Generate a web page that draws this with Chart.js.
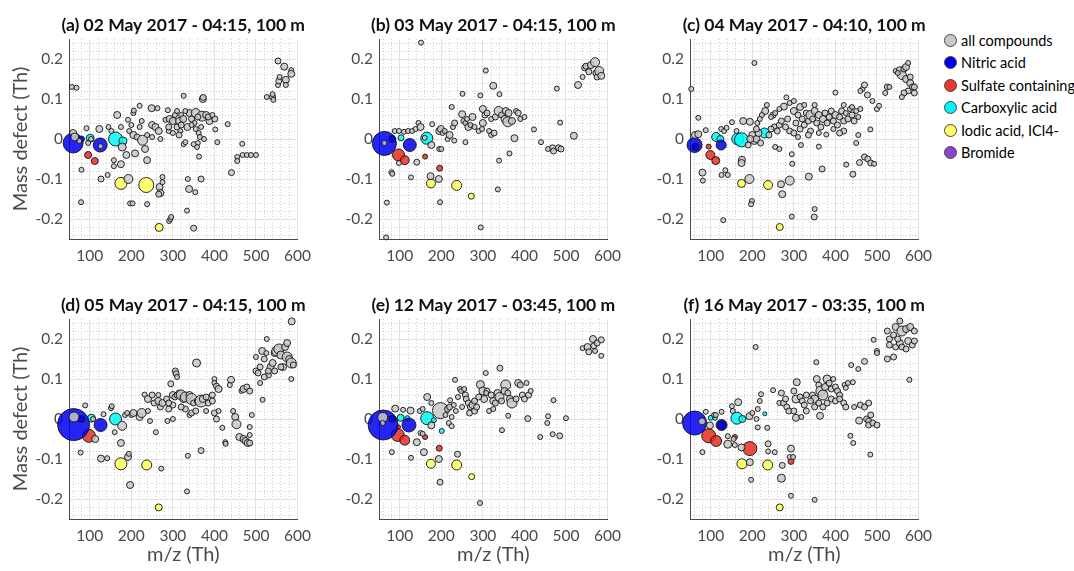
<!DOCTYPE html>
<html>
<head>
<meta charset="utf-8">
<script src="https://cdn.jsdelivr.net/npm/chart.js@4.4.0/dist/chart.umd.min.js"></script>
<style>
  body { margin: 0; width: 1074px; height: 571px; overflow: hidden; background: #fff; position: relative; font-family: Lato, sans-serif; }
  canvas { position: absolute; }
  #legend { position: absolute; left: 944px; top: 29px; }
  .item { display: flex; align-items: center; height: 22.5px; font-size: 14.5px; color: #000; white-space: nowrap; }
  .dot { width: 13px; height: 13px; border-radius: 50%; border: 1px solid #444; box-sizing: border-box; margin-right: 4px; }
</style>
</head>
<body>
<canvas id="pa" width="320" height="290" style="left:-1px;top:4px"></canvas>
<canvas id="pb" width="320" height="290" style="left:309px;top:4px"></canvas>
<canvas id="pc" width="320" height="290" style="left:620px;top:4px"></canvas>
<canvas id="pd" width="320" height="290" style="left:-1px;top:284px"></canvas>
<canvas id="pe" width="320" height="290" style="left:309px;top:284px"></canvas>
<canvas id="pf" width="320" height="290" style="left:620px;top:284px"></canvas>
<div id="legend"></div>
<script>
// tick labels
const xTicks = [100, 200, 300, 400, 500, 600];
const yTicks = [-0.2, -0.1, 0, 0.1, 0.2];

const titles = [
    '(a) 02 May 2017 - 04:15, 100 m',
    '(b) 03 May 2017 - 04:15, 100 m',
    '(c) 04 May 2017 - 04:10, 100 m',
    '(d) 05 May 2017 - 04:15, 100 m',
    '(e) 12 May 2017 - 03:45, 100 m',
    '(f) 16 May 2017 - 03:35, 100 m'
];

const groups = ['all compounds', 'Nitric acid', 'Sulfate containing', 'Carboxylic acid', 'Iodic acid, ICl4-', 'Bromide'];

// [m/z, mass defect, marker radius (signal)]
const allA = [[57,0.13,2.5],[68,0.128,2.5],[60,0.015,3.5],[64,0.005,4],[75,-0.005,2.5],[80,-0.077,2.5],[79,-0.158,2.5],[92,0.027,2.5],[96,-0.01,2.5],[103,0.0,2.5],[123,0.025,3.5],[126,-0.018,2.5],[127,-0.1,3],[143,-0.09,2.5],[145,0.03,2.5],[152,0.02,2.5],[166,0.06,3.5],[158,-0.053,2.5],[158,-0.068,2.5],[175,-0.063,3.5],[175,0.03,2.5],[178,-0.02,4],[188,-0.04,3.5],[192,0.048,2.5],[195,0.02,2.5],[200,0.035,2.5],[205,0.065,2.5],[206,0.071,2.5],[205,0.01,3.5],[209,-0.036,3.5],[220,0.083,2.5],[220,0.03,2.5],[225,0.045,2.5],[214,0.005,3],[227,-0.003,5],[233,-0.025,3.5],[238,0.01,2.5],[238,-0.053,3.5],[249,0.077,3.5],[263,0.077,2.5],[250,0.035,3.5],[258,0.03,3.5],[250,0.005,2.5],[266,0.02,3.5],[270,0.0,2.5],[193,-0.1,4.5],[197,-0.161,2.5],[203,-0.161,2.5],[238,-0.163,2.5],[268,-0.12,3.5],[270,-0.135,3.5],[266,-0.138,3],[275,-0.095,2.5],[275,-0.108,2.5],[282,0.048,2.5],[288,0.072,2.5],[292,0.05,3.5],[300,0.045,3.5],[305,0.06,2.5],[290,0.02,2.5],[300,0.015,2.5],[310,0.03,3],[318,0.02,2.5],[326,0.108,2.5],[372,0.1,3.5],[373,0.104,3],[340,0.065,3.5],[345,0.05,3],[355,0.065,4.5],[370,0.057,5],[380,0.06,3.5],[388,0.045,3.5],[330,0.07,2.5],[320,0.06,2.5],[315,0.045,3.5],[325,0.05,3.5],[335,0.03,3.5],[352,0.04,2.5],[326,-0.013,2.5],[330,-0.008,2.5],[355,0.025,2.5],[362,0.015,2.5],[365,0.005,2.5],[360,-0.01,2.5],[358,-0.02,2.5],[350,-0.013,2.5],[363,-0.044,2.5],[375,0.0,2.5],[401,0.05,3],[402,0.024,2.5],[407,-0.008,2.5],[432,0.037,2.5],[336,-0.1,2.5],[339,-0.125,3.5],[354,-0.133,2.5],[368,-0.1,3],[334,-0.179,2.5],[350,-0.223,3],[291,-0.205,2.5],[294,-0.2,2.5],[296,-0.195,2.5],[441,-0.084,3],[455,-0.045,2.5],[455,-0.055,2.5],[467,-0.012,2.5],[468,-0.04,2.5],[478,-0.04,2.5],[488,-0.04,2.5],[500,-0.04,2.5],[526,0.105,2.5],[540,0.105,3],[540,0.112,2.5],[542,0.098,2.5],[553,0.195,3],[553,0.135,2.5],[555,0.145,3],[557,0.155,2.5],[568,0.181,3.5],[572,0.148,3.5],[572,0.135,2.5],[585,0.172,2.5],[585,0.163,3.5],[310,0.07,2.5],[315,0.01,3],[320,0.035,3],[345,0.035,2.5],[385,0.055,3],[395,0.06,2.5],[360,0.055,3],[368,0.03,2.5],[290,0.03,3]];
const nitricA = [[60,-0.01,10],[80,0.0,3],[125,-0.015,7]];
const sulfateA = [[96,-0.04,3.5],[112,-0.055,3.5]];
const carboxA = [[101,0.002,4],[162,0.0,7],[180,-0.005,4]];
const iodicA = [[175,-0.111,6],[236,-0.115,7.5],[267,-0.221,4]];

const allB = [[151,0.241,2.5],[69,-0.159,2.5],[67,-0.246,2.5],[80,-0.083,2.5],[82,-0.087,2.5],[88,0.02,2.5],[98,0.02,2.5],[110,0.018,2.5],[120,0.02,2.5],[130,0.02,2.5],[138,0.025,2.5],[98,-0.06,2.5],[145,0.04,2.5],[150,0.03,3.5],[141,-0.058,3],[127,-0.096,2.5],[160,0.003,2.5],[178,0.037,2.5],[176,-0.015,3.5],[174,-0.093,3.5],[194,-0.1,3.5],[197,-0.158,2.5],[195,0.02,3.5],[199,0.025,3.5],[203,0.015,2.5],[208,0.02,2.5],[195,-0.025,2.5],[200,-0.025,2.5],[225,0.08,2.5],[215,0.0,2.5],[220,0.01,3.5],[228,0.03,2.5],[232,0.04,3],[231,-0.004,2.5],[258,-0.008,2.5],[251,0.113,2.5],[250,0.062,3.5],[253,0.045,2.5],[258,0.04,2.5],[262,0.05,2.5],[265,0.03,3.5],[270,0.035,2.5],[275,0.055,3.5],[280,0.03,2.5],[290,0.02,2.5],[295,-0.221,2.5],[294,0.109,2.5],[300,0.075,3.5],[305,0.06,3],[300,0.04,3.5],[298,0.025,2.5],[310,0.065,3],[315,0.02,2.5],[307,0.171,2.5],[325,0.133,3.5],[340,0.112,2.5],[320,0.05,2.5],[330,0.055,3],[338,0.07,4.5],[345,0.06,3],[355,0.07,3.5],[352,0.05,3.5],[360,0.043,5],[370,0.045,3.5],[362,0.065,3.5],[380,0.07,2.5],[385,0.065,3],[390,0.05,2.5],[400,0.055,2.5],[320,0.01,2.5],[327,0.015,3],[339,-0.054,2.5],[336,-0.126,2.5],[376,0.002,3.5],[364,-0.036,2.5],[423,0.024,2.5],[440,-0.008,2.5],[478,0.126,2.5],[486,0.041,2.5],[457,-0.025,2.5],[468,-0.022,3],[470,-0.03,3],[482,-0.022,3],[488,-0.025,3],[519,0.008,3.5],[529,0.135,3.5],[540,0.155,2.5],[545,0.178,3],[548,0.182,3],[555,0.168,3],[560,0.185,3.5],[570,0.192,4.5],[572,0.165,3],[575,0.155,3],[580,0.17,4.5],[585,0.158,3.5],[63,-0.01,2.5]];
const nitricB = [[63,-0.011,12],[82,0.0,3.5],[124,-0.015,6.5]];
const sulfateB = [[97,-0.04,6],[112,-0.053,4.5],[161,-0.044,2.5],[196,-0.073,3]];
const carboxB = [[103,0.003,3],[165,0.002,6]];
const iodicB = [[175,-0.111,4.5],[237,-0.116,5],[272,-0.143,3]];

const allC = [[53,0.125,2.5],[70,0.053,2.5],[62,0.01,3.5],[70,0.012,3.5],[88,0.022,2.5],[80,-0.084,3.5],[81,-0.104,2.5],[130,-0.203,2.5],[126,-0.09,2.5],[135,-0.078,2.5],[141,-0.09,2.5],[125,0.025,2.5],[132,0.02,2.5],[138,0.028,2.5],[151,0.042,2.5],[162,0.02,2.5],[178,0.045,3.5],[194,0.043,3.5],[175,-0.052,3.5],[174,-0.06,3.5],[193,-0.1,4.5],[199,-0.155,2.5],[197,-0.163,2.5],[205,0.19,2.5],[200,0.01,3.5],[205,-0.005,3.5],[210,0.0,3.5],[215,0.015,3.5],[220,-0.01,3],[210,0.025,3],[212,0.04,2.5],[195,0.0,3.5],[190,-0.015,3],[231,0.07,3.5],[235,0.085,2.5],[223,0.06,2.5],[218,0.05,2.5],[250,0.06,3],[255,0.065,2.5],[253,0.03,3],[260,0.02,3],[265,0.035,3],[245,0.025,3],[240,0.01,3],[255,-0.02,2.5],[265,-0.025,2.5],[269,-0.113,3.5],[272,-0.138,3.5],[290,-0.104,4.5],[295,-0.038,2.5],[296,-0.062,2.5],[295,-0.194,2.5],[282,0.104,2.5],[290,0.09,2.5],[276,0.081,3.5],[270,0.045,3],[280,0.03,3],[285,0.05,3],[290,0.02,3],[300,0.07,3.5],[305,0.04,3],[310,0.06,3],[315,0.08,3.5],[315,0.025,3],[320,0.05,3],[325,0.035,3],[330,0.065,3],[335,0.045,3],[340,0.02,3],[340,0.06,4.5],[345,0.05,3],[350,0.07,3.5],[355,0.04,3],[360,0.06,3.5],[365,0.03,3],[370,0.05,3.5],[375,0.065,3],[380,0.04,3],[385,0.055,3],[390,0.07,3],[395,0.045,3],[400,0.06,3.5],[405,0.035,3],[410,0.055,3],[415,0.07,3],[420,0.045,3],[425,0.065,2.5],[430,0.05,3],[435,0.075,2.5],[440,0.06,3],[445,0.045,3],[450,0.07,2.5],[455,0.055,2.5],[460,0.075,2.5],[420,0.02,3],[410,0.015,3],[395,0.025,2.5],[360,0.015,2.5],[335,0.01,3],[300,0.015,3],[310,0.005,2.5],[317,-0.015,2.5],[336,-0.094,3.5],[350,-0.175,2.5],[349,-0.195,3],[360,-0.019,2.5],[368,-0.075,3],[400,0.116,2.5],[378,0.011,2.5],[426,-0.064,2.5],[442,-0.088,3],[450,-0.01,2.5],[455,0.01,2.5],[458,-0.059,3],[470,-0.045,3],[478,-0.05,3],[485,-0.06,3],[493,-0.062,2.5],[465,0.125,2.5],[470,0.135,3],[460,0.12,2.5],[477,0.11,3],[484,0.024,2.5],[489,0.095,2.5],[500,0.075,2.5],[505,0.083,2.5],[520,0.115,2.5],[525,0.13,3],[530,0.13,2.5],[545,0.17,2.5],[555,0.172,3.5],[560,0.16,4.5],[565,0.175,3],[570,0.18,3.5],[575,0.19,2.5],[570,0.15,3.5],[580,0.14,3.5],[585,0.13,3],[575,0.12,3],[565,0.115,3],[560,0.105,2.5],[590,0.115,3],[590,0.13,3],[580,0.155,3],[550,0.165,2.5],[245,0.055,2.5],[265,0.075,2.5],[300,0.095,2.5],[325,0.085,2.5],[350,0.085,2.5],[420,0.085,2.5],[440,0.08,2.5]];
const nitricC = [[61,-0.015,7.5],[63,-0.02,3.5],[125,-0.015,5]];
const sulfateC = [[95,-0.019,2.5],[99,-0.04,4.5],[112,-0.054,4]];
const carboxC = [[113,0.005,4.5],[123,0.0,3.5],[165,0.0,6],[174,-0.002,7],[229,0.015,5]];
const iodicC = [[174,-0.111,4],[238,-0.115,4.5],[266,-0.22,3.5]];

const allD = [[62,0.005,5],[89,0.034,2.5],[78,-0.084,2.5],[108,0.0,2.5],[113,-0.05,3.5],[127,-0.099,3.5],[142,-0.098,2.5],[133,0.012,2.5],[151,0.027,2.5],[153,0.032,2.5],[160,-0.033,2.5],[175,-0.06,3.5],[178,-0.017,4.5],[185,0.01,2.5],[190,0.015,2.5],[200,0.01,2.5],[205,0.015,3.5],[192,-0.095,3.5],[194,-0.087,2.5],[197,-0.165,3.5],[220,0.005,3.5],[225,0.015,4.5],[240,0.02,2.5],[245,-0.005,2.5],[232,0.061,2.5],[240,0.05,3.5],[250,0.06,3],[255,0.04,3],[259,-0.033,2.5],[272,-0.124,2.5],[265,0.045,3.5],[270,0.03,3],[275,0.04,3.5],[285,0.05,3],[295,0.088,3],[287,-0.005,2.5],[300,0.06,3.5],[305,0.055,3],[310,0.06,3],[315,0.065,3],[306,0.12,3],[308,0.113,3],[310,0.105,2.5],[320,0.06,5],[325,0.05,3.5],[330,0.055,5],[340,0.06,3.5],[345,0.05,5.5],[350,0.04,3],[360,0.045,3.5],[368,0.045,6],[372,0.05,3.5],[380,0.055,3],[385,0.04,3],[340,0.01,2.5],[345,0.015,3],[355,0.02,3],[330,0.025,3],[300,0.035,3],[290,0.025,3],[357,0.14,4],[400,0.1,2.5],[400,0.09,2.5],[405,0.082,3],[410,0.075,3.5],[336,-0.092,2.5],[334,-0.181,2.5],[368,-0.079,3],[400,0.015,3],[405,0.0,3],[410,0.02,2.5],[426,-0.058,2.5],[427,-0.062,2.5],[419,-0.022,2.5],[440,0.098,3.5],[437,0.085,2.5],[445,0.02,2.5],[450,0.005,3.5],[453,-0.013,4.5],[460,-0.045,3.5],[470,-0.05,3.5],[475,-0.055,3.5],[480,-0.06,3.5],[485,-0.06,3],[485,-0.04,2.5],[465,0.07,2.5],[470,0.075,3.5],[478,0.08,3],[485,0.07,3],[490,0.01,2.5],[485,-0.02,2.5],[500,0.12,3],[505,0.115,3],[510,0.13,3],[515,0.17,3.5],[520,0.15,3],[525,0.165,2.5],[526,0.2,2.5],[516,0.048,2.5],[530,0.11,3],[535,0.13,3.5],[540,0.14,3.5],[545,0.165,3.5],[550,0.17,5],[555,0.175,5],[560,0.16,4],[565,0.13,3.5],[570,0.18,3.5],[575,0.155,5],[580,0.15,3.5],[585,0.14,5],[590,0.135,3],[585,0.1,2.5],[586,0.244,3.5],[575,0.19,3.5],[510,0.09,2.5],[520,0.105,3],[530,0.12,3],[545,0.12,3],[560,0.13,3],[500,0.155,2.5],[265,0.06,2.5],[290,0.04,3],[320,0.03,3],[395,0.06,3],[395,0.045,3],[380,0.02,2.5],[300,0.0,2.5]];
const nitricD = [[61,-0.014,16],[80,0.0,3.5],[126,-0.015,6.5]];
const sulfateD = [[98,-0.042,6.5]];
const carboxD = [[104,0.002,4],[162,0.0,6]];
const iodicD = [[175,-0.112,6],[237,-0.115,5],[266,-0.221,3.5]];

const allE = [[59,0.004,5],[59,-0.01,2.5],[89,0.026,3.5],[81,-0.083,2.5],[108,0.023,2.5],[126,0.021,3.5],[141,-0.058,3.5],[127,-0.097,2.5],[150,-0.035,2.5],[155,-0.037,2.5],[158,-0.083,3.5],[148,0.02,2.5],[155,0.025,2.5],[166,0.055,3.5],[176,0.04,2.5],[176,-0.016,3.5],[194,-0.1,3.5],[197,-0.158,3],[198,0.021,8],[210,0.01,2.5],[215,0.025,3],[220,0.03,3],[225,0.005,2.5],[218,-0.01,2.5],[221,0.047,2.5],[225,-0.018,2.5],[233,0.098,2.5],[239,-0.088,3],[245,0.075,2.5],[248,0.07,2.5],[255,0.075,2.5],[258,0.06,3],[260,0.05,3],[265,0.04,3],[270,0.03,3],[275,0.035,3.5],[280,0.045,3],[268,0.015,3],[280,0.02,3],[293,-0.21,2.5],[294,0.086,4],[300,0.07,4],[310,0.07,3],[303,0.05,3.5],[308,0.065,2.5],[307,0.115,2.5],[341,0.127,3],[320,0.06,3],[325,0.045,3.5],[335,0.065,3.5],[340,0.055,4.5],[345,0.045,3],[355,0.085,5],[352,0.07,3.5],[360,0.065,3],[365,0.05,3.5],[370,0.04,5],[380,0.05,3],[385,0.09,3.5],[390,0.085,3],[395,0.06,3],[400,0.05,3],[405,0.09,2.5],[410,0.06,3],[415,0.07,2.5],[315,0.02,2.5],[325,0.025,2.5],[330,0.04,3],[346,-0.028,2.5],[361,0.008,2.5],[408,0.001,3],[438,-0.045,2.5],[455,-0.01,2.5],[457,0.007,2.5],[470,0.047,2.5],[468,-0.038,2.5],[485,-0.042,3],[500,0.002,2.5],[540,0.177,2.5],[552,0.18,3.5],[555,0.168,3],[565,0.2,3.5],[567,0.183,3],[570,0.17,2.5],[575,0.19,3],[585,0.198,3],[585,0.158,2.5],[290,0.055,3],[285,0.03,3],[240,0.055,2.5],[230,0.035,2.5],[235,0.02,2.5],[250,0.03,2.5]];
const nitricE = [[60,-0.015,15],[82,0.0,3.5],[122,-0.015,7]];
const sulfateE = [[95,-0.04,6.5],[112,-0.053,5],[161,-0.045,2.5],[195,-0.073,3],[97,-0.02,2]];
const carboxE = [[102,0.003,3.5],[118,0.002,2.5],[166,0.002,6.5],[182,-0.003,2.5],[201,-0.03,2.5]];
const iodicE = [[175,-0.112,4.5],[237,-0.115,5],[273,-0.144,3]];

const allF = [[79,-0.006,3.5],[88,0.018,2.5],[98,-0.016,3.5],[80,-0.083,2.5],[108,0.01,2.5],[112,0.01,2.5],[126,0.018,2.5],[141,-0.043,2.5],[155,-0.05,2.5],[141,-0.063,4],[158,-0.065,2.5],[151,0.032,2.5],[153,0.02,2.5],[166,0.042,3.5],[174,-0.071,3.5],[194,-0.108,3.5],[197,-0.152,2.5],[208,0.18,2.5],[193,0.007,3.5],[200,0.015,2.5],[210,0.0,2.5],[213,0.025,2.5],[213,-0.021,2.5],[221,0.062,2.5],[218,0.045,2.5],[238,-0.062,3],[238,-0.081,2.5],[236,-0.022,2.5],[254,-0.083,2.5],[250,0.072,2.5],[270,0.065,3],[265,0.04,2.5],[275,0.04,3],[280,0.05,3],[283,0.03,3],[288,0.02,3],[272,-0.116,3],[270,-0.148,4],[293,-0.074,3.5],[290,-0.095,2.5],[298,-0.095,2.5],[293,-0.192,2.5],[300,0.07,3],[307,0.092,3.5],[305,0.05,4],[315,0.055,3],[320,0.045,3],[330,0.06,3],[325,0.035,3],[300,0.02,3],[305,0.003,3.5],[318,0.005,2.5],[330,0.02,3],[350,-0.202,2.5],[354,0.142,2.5],[355,0.1,3.5],[360,0.085,3],[365,0.07,5],[370,0.06,5],[375,0.08,3.5],[380,0.1,4],[385,0.09,3],[390,0.075,3],[395,0.1,2.5],[400,0.08,3],[405,0.07,3],[410,0.06,3],[345,0.06,3],[350,0.05,4],[360,0.04,3],[370,0.03,3],[363,0.008,3.5],[390,0.05,3],[400,0.045,3],[410,0.05,3],[420,0.04,3],[425,0.03,3],[422,0.085,2.5],[425,0.078,2.5],[430,0.09,2.5],[438,0.135,2.5],[455,0.125,2.5],[442,0.092,2.5],[436,-0.042,2.5],[443,-0.06,2.5],[445,0.03,2.5],[460,0.035,3],[470,0.03,3],[480,0.04,3],[470,0.144,3],[475,0.0,3],[480,-0.005,3],[480,-0.015,3],[490,-0.01,3],[500,-0.015,3],[485,0.01,3],[457,-0.004,3.5],[484,-0.089,2.5],[492,0.198,2.5],[500,0.17,2.5],[500,0.165,2.5],[525,0.15,3],[540,0.155,3],[525,0.22,3],[530,0.2,3],[540,0.21,3],[545,0.23,3.5],[555,0.245,3],[560,0.22,5],[570,0.225,3.5],[580,0.23,3.5],[590,0.22,3],[545,0.18,3],[555,0.19,3.5],[560,0.18,3],[570,0.175,3],[575,0.195,3.5],[585,0.185,3],[590,0.195,3],[550,0.2,3],[530,0.185,3],[578,0.098,2.5],[350,0.03,3],[340,0.045,3],[380,0.04,3]];
const nitricF = [[61,-0.01,12],[126,-0.015,5.5],[126,-0.015,4]];
const sulfateF = [[95,-0.042,7],[113,-0.055,5.5],[158,-0.045,2.5],[194,-0.074,7],[293,-0.106,3]];
const carboxF = [[100,0.003,2.5],[110,0.003,2.5],[163,0.002,6],[176,0.0,3.5],[230,0.013,2]];
const iodicF = [[175,-0.112,5],[237,-0.115,5],[266,-0.221,3.5]];

const bromide = [];

// styling
const fillColors = ['rgba(200,200,200,0.85)', 'rgba(0,0,240,0.85)', 'rgba(232,45,35,0.85)',
                    'rgba(0,250,250,0.85)', 'rgba(255,255,90,0.85)', 'rgba(136,60,205,0.85)'];
const legendColors = ['#c8c8c8', '#0000f0', '#e8392c', '#00f5f5', '#ffff66', '#8a45cc'];
const fontFamily = 'Lato, "Open Sans", sans-serif';

const panelTitle = {
    id: 'panelTitle',
    afterDraw(chart, args, opts) {
        const { ctx, chartArea } = chart;
        ctx.save();
        ctx.font = 'bold 17.5px ' + fontFamily;
        ctx.fillStyle = '#111';
        ctx.textAlign = 'center';
        ctx.textBaseline = 'middle';
        ctx.fillText(opts.text, (chartArea.left + chartArea.right) / 2, chartArea.top - 14);
        ctx.restore();
    }
};

function toPoints(arr) {
    return arr.map(p => ({ x: p[0], y: p[1], r: p[2] }));
}

function minorTicks(from, to, step, majorEvery) {
    const out = [];
    for (let k = Math.ceil(from / step); k * step <= to + 1e-9; k++) {
        if (k % majorEvery !== 0) out.push({ value: +(k * step).toFixed(4) });
    }
    return out;
}

function makePanel(id, title, sets, showYLabel, showXLabel) {
    // colored groups underneath, all compounds on top (order 0 = drawn last)
    const datasets = sets.map((set, i) => ({
        label: groups[i],
        data: toPoints(set),
        backgroundColor: fillColors[i],
        borderColor: '#111',
        borderWidth: 0.9,
        clip: false,
        order: i === 0 ? 0 : 1
    }));

    return new Chart(document.getElementById(id), {
        type: 'bubble',
        data: { datasets },
        plugins: [panelTitle],
        options: {
            responsive: false,
            animation: false,
            events: [],
            layout: { padding: { left: 0, right: 15, top: 35, bottom: 0 } },
            plugins: {
                legend: { display: false },
                tooltip: { enabled: false },
                panelTitle: { text: title }
            },
            scales: {
                x: {
                    type: 'linear', position: 'bottom', min: 50, max: 600,
                    afterBuildTicks: s => { s.ticks = xTicks.map(v => ({ value: v })); },
                    afterFit: s => { s.height = 55; },
                    grid: { color: '#e2e2e2', drawTicks: false },
                    border: { color: '#4a4a4a', width: 1 },
                    ticks: { color: '#4a4a4a', padding: 8, maxRotation: 0, autoSkip: false,
                             font: { family: fontFamily, size: 15.5 } },
                    title: { display: showXLabel, text: 'm/z (Th)', color: '#4a4a4a',
                             font: { family: fontFamily, size: 20 }, padding: { top: 0, bottom: 7 } }
                },
                xMinor: {
                    type: 'linear', position: 'bottom', min: 50, max: 600,
                    afterBuildTicks: s => { s.ticks = minorTicks(50, 600, 20, 5); },
                    afterFit: s => { s.height = 0; },
                    grid: { color: '#cfcfcf', drawTicks: false },
                    border: { display: false, dash: [1, 2] },
                    ticks: { display: false }
                },
                y: {
                    type: 'linear', position: 'left', min: -0.25, max: 0.25,
                    afterBuildTicks: s => { s.ticks = yTicks.map(v => ({ value: v })); },
                    afterFit: s => { s.width = 70; },
                    grid: { color: '#e2e2e2', drawTicks: false },
                    border: { color: '#4a4a4a', width: 1 },
                    ticks: { color: '#4a4a4a', padding: 6, autoSkip: false,
                             font: { family: fontFamily, size: 15.5 },
                             callback: v => v === 0 ? '0' : v.toFixed(1) },
                    title: { display: showYLabel, text: 'Mass defect (Th)', color: '#4a4a4a',
                             font: { family: fontFamily, size: 20 }, padding: { top: 10, bottom: 0 } }
                },
                yMinor: {
                    type: 'linear', position: 'left', min: -0.25, max: 0.25,
                    afterBuildTicks: s => { s.ticks = minorTicks(-0.25, 0.25, 0.02, 5); },
                    afterFit: s => { s.width = 0; },
                    grid: { color: '#cfcfcf', drawTicks: false },
                    border: { display: false, dash: [1, 2] },
                    ticks: { display: false }
                }
            }
        }
    });
}

makePanel('pa', titles[0], [allA, nitricA, sulfateA, carboxA, iodicA, bromide], true, false);
makePanel('pb', titles[1], [allB, nitricB, sulfateB, carboxB, iodicB, bromide], false, false);
makePanel('pc', titles[2], [allC, nitricC, sulfateC, carboxC, iodicC, bromide], false, false);
makePanel('pd', titles[3], [allD, nitricD, sulfateD, carboxD, iodicD, bromide], true, true);
makePanel('pe', titles[4], [allE, nitricE, sulfateE, carboxE, iodicE, bromide], false, true);
makePanel('pf', titles[5], [allF, nitricF, sulfateF, carboxF, iodicF, bromide], false, true);

// legend for the whole figure
const legend = document.getElementById('legend');
groups.forEach((name, i) => {
    const row = document.createElement('div');
    row.className = 'item';
    const dot = document.createElement('span');
    dot.className = 'dot';
    dot.style.background = legendColors[i];
    const label = document.createElement('span');
    label.textContent = name;
    row.appendChild(dot);
    row.appendChild(label);
    legend.appendChild(row);
});
</script>
</body>
</html>
